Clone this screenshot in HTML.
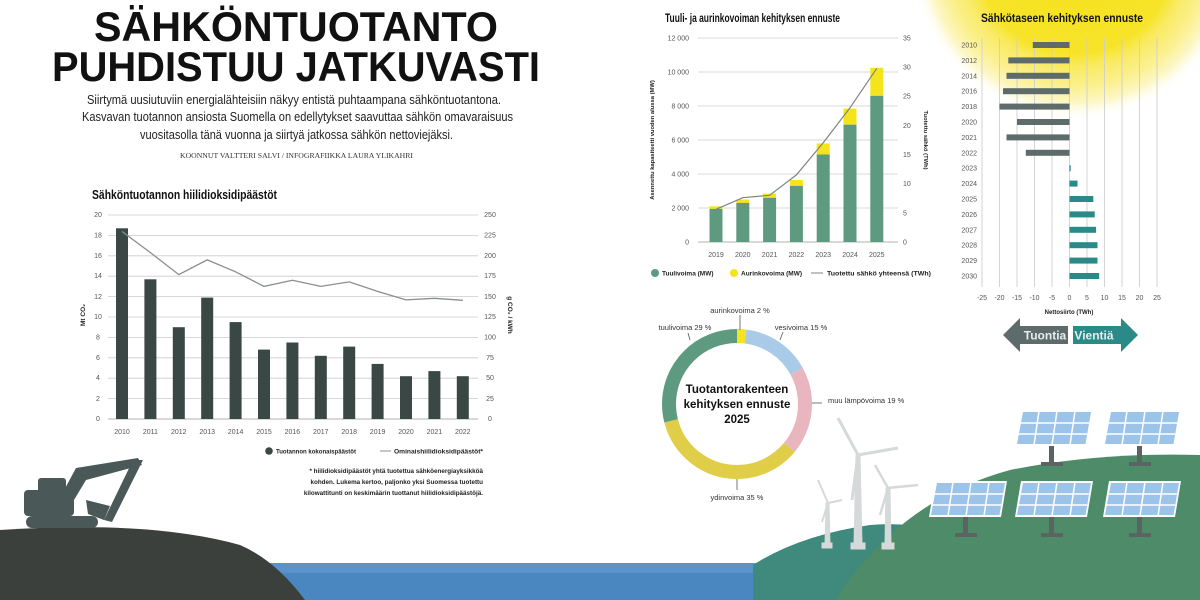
<!DOCTYPE html>
<html><head><meta charset="utf-8"><style>
html,body{margin:0;padding:0;background:#fff}
svg{display:block}
text{font-family:"Liberation Sans",sans-serif}
</style></head><body>
<svg width="1200" height="600" viewBox="0 0 1200 600" xmlns="http://www.w3.org/2000/svg">
<defs>
<radialGradient id="sun" cx="1075" cy="-45" r="165" gradientUnits="userSpaceOnUse">
<stop offset="0" stop-color="#f6e11a"/><stop offset="0.6" stop-color="#f7e42a"/><stop offset="0.68" stop-color="#f9ea62"/><stop offset="0.8" stop-color="#fbf08f"/><stop offset="0.9" stop-color="#fdf7c8"/><stop offset="1" stop-color="#fff" stop-opacity="0"/>
</radialGradient>
</defs>
<rect width="1200" height="600" fill="#fff"/>
<circle cx="1075" cy="-45" r="165" fill="url(#sun)"/>

<!-- Title -->
<g font-weight="bold" fill="#111" text-anchor="start">
<text x="94" y="41" font-size="42" textLength="404" lengthAdjust="spacingAndGlyphs">SÄHKÖNTUOTANTO</text>
<text x="52" y="81" font-size="42" textLength="488" lengthAdjust="spacingAndGlyphs">PUHDISTUU JATKUVASTI</text>
</g>
<g font-size="12.5" fill="#222">
<text x="87" y="104" textLength="414" lengthAdjust="spacingAndGlyphs">Siirtymä uusiutuviin energialähteisiin näkyy entistä puhtaampana sähköntuotantona.</text>
<text x="82" y="121" textLength="431" lengthAdjust="spacingAndGlyphs">Kasvavan tuotannon ansiosta Suomella on edellytykset saavuttaa sähkön omavaraisuus</text>
<text x="140" y="139" textLength="313" lengthAdjust="spacingAndGlyphs">vuositasolla tänä vuonna ja siirtyä jatkossa sähkön nettoviejäksi.</text>
</g>
<text x="180" y="158" font-size="7" fill="#333" style="font-family:'Liberation Serif',serif" textLength="233" lengthAdjust="spacingAndGlyphs">KOONNUT VALTTERI SALVI / INFOGRAFIIKKA LAURA YLIKAHRI</text>

<!-- Left chart -->
<text x="92" y="199" font-size="12.5" font-weight="bold" fill="#111" textLength="185" lengthAdjust="spacingAndGlyphs">Sähköntuotannon hiilidioksidipäästöt</text>
<g stroke="#ccc" stroke-width="0.8">
<line x1="108" x2="478" y1="215" y2="215"/><line x1="108" x2="478" y1="235.4" y2="235.4"/><line x1="108" x2="478" y1="255.8" y2="255.8"/><line x1="108" x2="478" y1="276.2" y2="276.2"/><line x1="108" x2="478" y1="296.6" y2="296.6"/><line x1="108" x2="478" y1="317" y2="317"/><line x1="108" x2="478" y1="337.4" y2="337.4"/><line x1="108" x2="478" y1="357.8" y2="357.8"/><line x1="108" x2="478" y1="378.2" y2="378.2"/><line x1="108" x2="478" y1="398.6" y2="398.6"/><line x1="108" x2="478" y1="419" y2="419" stroke="#999"/>
</g>
<g font-size="7" fill="#555" text-anchor="middle">
<text x="98" y="217">20</text><text x="98" y="237.5">18</text><text x="98" y="258">16</text><text x="98" y="278">14</text><text x="98" y="299">12</text><text x="98" y="319">10</text><text x="98" y="339.5">8</text><text x="98" y="360">6</text><text x="98" y="380">4</text><text x="98" y="401">2</text><text x="98" y="421">0</text>
<text x="490" y="217">250</text><text x="490" y="237.5">225</text><text x="490" y="258">200</text><text x="490" y="278">175</text><text x="490" y="299">150</text><text x="490" y="319">125</text><text x="490" y="339.5">100</text><text x="490" y="360">75</text><text x="490" y="380">50</text><text x="490" y="401">25</text><text x="490" y="421">0</text>
</g>
<text transform="translate(85,315) rotate(-90)" font-size="6.5" font-weight="bold" fill="#222" text-anchor="middle">Mt CO₂</text>
<text transform="translate(508,315) rotate(90)" font-size="6.5" font-weight="bold" fill="#222" text-anchor="middle">g CO₂ / kWh</text>
<g fill="#3a4845">
<rect x="116" y="228.3" width="12" height="190.7"/>
<rect x="144.4" y="279.3" width="12" height="139.7"/>
<rect x="172.8" y="327.2" width="12" height="91.8"/>
<rect x="201.2" y="297.6" width="12" height="121.4"/>
<rect x="229.6" y="322.1" width="12" height="96.9"/>
<rect x="258" y="349.6" width="12" height="69.4"/>
<rect x="286.4" y="342.5" width="12" height="76.5"/>
<rect x="314.8" y="355.8" width="12" height="63.2"/>
<rect x="343.2" y="346.6" width="12" height="72.4"/>
<rect x="371.6" y="363.9" width="12" height="55.1"/>
<rect x="400" y="376.2" width="12" height="42.8"/>
<rect x="428.4" y="371.1" width="12" height="47.9"/>
<rect x="456.8" y="376.2" width="12" height="42.8"/>
</g>
<polyline fill="none" stroke="#8a8f8e" stroke-width="1.3" points="122,231.4 150.4,252.6 178.8,274.6 207.2,259.9 235.6,271.8 264,286.4 292.4,280.3 320.8,286.4 349.2,281.9 377.6,291.4 406,299.9 434.4,298.3 462.8,300.3"/>
<g font-size="7" fill="#555" text-anchor="middle">
<text x="122" y="434">2010</text><text x="150.4" y="434">2011</text><text x="178.8" y="434">2012</text><text x="207.2" y="434">2013</text><text x="235.6" y="434">2014</text><text x="264" y="434">2015</text><text x="292.4" y="434">2016</text><text x="320.8" y="434">2017</text><text x="349.2" y="434">2018</text><text x="377.6" y="434">2019</text><text x="406" y="434">2020</text><text x="434.4" y="434">2021</text><text x="462.8" y="434">2022</text>
</g>
<circle cx="269" cy="451" r="3.8" fill="#3a4845"/>
<text x="276" y="453.5" font-size="6.5" font-weight="bold" fill="#222" textLength="80" lengthAdjust="spacingAndGlyphs">Tuotannon kokonaispäästöt</text>
<line x1="380" x2="391" y1="451" y2="451" stroke="#8a8f8e" stroke-width="1"/>
<text x="394" y="453.5" font-size="6.5" font-weight="bold" fill="#222" textLength="89" lengthAdjust="spacingAndGlyphs">Ominaishiilidioksidipäästöt*</text>
<g font-size="6.3" font-weight="bold" fill="#222" text-anchor="end">
<text x="483" y="473">* hiilidioksidipäästöt yhtä tuotettua sähköenergiayksikköä</text>
<text x="483" y="484">kohden. Lukema kertoo, paljonko yksi Suomessa tuotettu</text>
<text x="483" y="495">kilowattitunti on keskimäärin tuottanut hiilidioksidipäästöjä.</text>
</g>

<!-- Middle chart -->
<text x="665" y="22" font-size="12" font-weight="bold" fill="#111" textLength="175" lengthAdjust="spacingAndGlyphs">Tuuli- ja aurinkovoiman kehityksen ennuste</text>
<g stroke="#ccc" stroke-width="0.8">
<line x1="698" x2="898" y1="38" y2="38"/><line x1="698" x2="898" y1="72" y2="72"/><line x1="698" x2="898" y1="106" y2="106"/><line x1="698" x2="898" y1="140" y2="140"/><line x1="698" x2="898" y1="174" y2="174"/><line x1="698" x2="898" y1="208" y2="208"/><line x1="698" x2="898" y1="242" y2="242" stroke="#999"/>
</g>
<g font-size="7" fill="#555" text-anchor="end">
<text x="689" y="40.5">12 000</text><text x="689" y="74.5">10 000</text><text x="689" y="108.5">8 000</text><text x="689" y="142.5">6 000</text><text x="689" y="176.5">4 000</text><text x="689" y="210.5">2 000</text><text x="689" y="244.5">0</text>
</g>
<g font-size="7" fill="#555" text-anchor="start">
<text x="903" y="40.5">35</text><text x="903" y="69.6">30</text><text x="903" y="98.7">25</text><text x="903" y="127.8">20</text><text x="903" y="157">15</text><text x="903" y="186">10</text><text x="903" y="215.3">5</text><text x="903" y="244.5">0</text>
</g>
<text transform="translate(654,140) rotate(-90)" font-size="5.8" font-weight="bold" fill="#222" text-anchor="middle">Asennettu kapasiteetti vuoden alussa (MW)</text>
<text transform="translate(924,140) rotate(90)" font-size="5.8" font-weight="bold" fill="#222" text-anchor="middle">Tuotettu sähkö (TWh)</text>
<g>
<rect x="709.5" y="206.3" width="13" height="2.6" fill="#f5e31c"/><rect x="709.5" y="208.9" width="13" height="33.1" fill="#5e9a80"/>
<rect x="736.3" y="199.5" width="13" height="3.4" fill="#f5e31c"/><rect x="736.3" y="202.9" width="13" height="39.1" fill="#5e9a80"/>
<rect x="763.1" y="193.6" width="13" height="4.2" fill="#f5e31c"/><rect x="763.1" y="197.8" width="13" height="44.2" fill="#5e9a80"/>
<rect x="789.9" y="180" width="13" height="5.9" fill="#f5e31c"/><rect x="789.9" y="185.9" width="13" height="56.1" fill="#5e9a80"/>
<rect x="816.7" y="143.4" width="13" height="11.1" fill="#f5e31c"/><rect x="816.7" y="154.5" width="13" height="87.5" fill="#5e9a80"/>
<rect x="843.5" y="108.6" width="13" height="16.1" fill="#f5e31c"/><rect x="843.5" y="124.7" width="13" height="117.3" fill="#5e9a80"/>
<rect x="870.3" y="67.8" width="13" height="27.9" fill="#f5e31c"/><rect x="870.3" y="95.8" width="13" height="146.2" fill="#5e9a80"/>
</g>
<polyline fill="none" stroke="#7d8584" stroke-width="1.2" points="716,209.3 742.8,197.7 769.6,195.3 796.4,174.9 823.2,142.8 850,107.8 876.8,68.3"/>
<g font-size="7" fill="#555" text-anchor="middle">
<text x="716" y="257">2019</text><text x="742.8" y="257">2020</text><text x="769.6" y="257">2021</text><text x="796.4" y="257">2022</text><text x="823.2" y="257">2023</text><text x="850" y="257">2024</text><text x="876.8" y="257">2025</text>
</g>
<circle cx="655" cy="273" r="4" fill="#5e9a80"/>
<text x="662" y="275.5" font-size="6.5" font-weight="bold" fill="#222">Tuulivoima (MW)</text>
<circle cx="734" cy="273" r="4" fill="#f5e31c"/>
<text x="741" y="275.5" font-size="6.5" font-weight="bold" fill="#222">Aurinkovoima (MW)</text>
<line x1="811" x2="823" y1="273" y2="273" stroke="#7d8584" stroke-width="1"/>
<text x="827" y="275.5" font-size="6.5" font-weight="bold" fill="#222" textLength="104" lengthAdjust="spacingAndGlyphs">Tuotettu sähkö yhteensä (TWh)</text>

<!-- Right chart -->
<text x="981" y="22" font-size="12" font-weight="bold" fill="#111" textLength="162" lengthAdjust="spacingAndGlyphs">Sähkötaseen kehityksen ennuste</text>
<g stroke="#cfcfcf" stroke-width="0.9">
<line x1="982" x2="982" y1="38" y2="287"/><line x1="999.5" x2="999.5" y1="38" y2="287"/><line x1="1017" x2="1017" y1="38" y2="287"/><line x1="1034.5" x2="1034.5" y1="38" y2="287"/><line x1="1052" x2="1052" y1="38" y2="287"/><line x1="1069.5" x2="1069.5" y1="38" y2="287"/><line x1="1087" x2="1087" y1="38" y2="287"/><line x1="1104.5" x2="1104.5" y1="38" y2="287"/><line x1="1122" x2="1122" y1="38" y2="287"/><line x1="1139.5" x2="1139.5" y1="38" y2="287"/><line x1="1157" x2="1157" y1="38" y2="287"/>
</g>
<g fill="#5d6b6b">
<rect x="1032.8" y="42" width="36.7" height="6"/>
<rect x="1008.3" y="57.4" width="61.2" height="6"/>
<rect x="1006.5" y="72.8" width="63" height="6"/>
<rect x="1003" y="88.2" width="66.5" height="6"/>
<rect x="999.5" y="103.6" width="70" height="6"/>
<rect x="1017" y="119" width="52.5" height="6"/>
<rect x="1006.5" y="134.4" width="63" height="6"/>
<rect x="1025.8" y="149.8" width="43.7" height="6"/>
</g>
<g fill="#2a8a88">
<rect x="1069.5" y="165.2" width="1.2" height="6"/>
<rect x="1069.5" y="180.6" width="8" height="6"/>
<rect x="1069.5" y="196" width="23.8" height="6"/>
<rect x="1069.5" y="211.4" width="25.2" height="6"/>
<rect x="1069.5" y="226.8" width="26.6" height="6"/>
<rect x="1069.5" y="242.2" width="28" height="6"/>
<rect x="1069.5" y="257.6" width="28" height="6"/>
<rect x="1069.5" y="273" width="29.7" height="6"/>
</g>
<g font-size="7" fill="#555" text-anchor="end">
<text x="977" y="47.5">2010</text><text x="977" y="62.9">2012</text><text x="977" y="78.3">2014</text><text x="977" y="93.7">2016</text><text x="977" y="109.1">2018</text><text x="977" y="124.5">2020</text><text x="977" y="139.9">2021</text><text x="977" y="155.3">2022</text><text x="977" y="170.7">2023</text><text x="977" y="186.1">2024</text><text x="977" y="201.5">2025</text><text x="977" y="216.9">2026</text><text x="977" y="232.3">2027</text><text x="977" y="247.7">2028</text><text x="977" y="263.1">2029</text><text x="977" y="278.5">2030</text>
</g>
<g font-size="7" fill="#555" text-anchor="middle">
<text x="982" y="300">-25</text><text x="999.5" y="300">-20</text><text x="1017" y="300">-15</text><text x="1034.5" y="300">-10</text><text x="1052" y="300">-5</text><text x="1069.5" y="300">0</text><text x="1087" y="300">5</text><text x="1104.5" y="300">10</text><text x="1122" y="300">15</text><text x="1139.5" y="300">20</text><text x="1157" y="300">25</text>
</g>
<text x="1069" y="314" font-size="6" font-weight="bold" fill="#222" text-anchor="middle">Nettosiirto (TWh)</text>
<polygon points="1003,335 1020,318 1020,326 1068,326 1068,344 1020,344 1020,352" fill="#5d6b6b"/>
<polygon points="1138,335 1121,318 1121,326 1073,326 1073,344 1121,344 1121,352" fill="#2a8a88"/>
<text x="1045" y="339.5" font-size="12" font-weight="bold" fill="#e8eded" text-anchor="middle">Tuontia</text>
<text x="1094" y="339.5" font-size="12" font-weight="bold" fill="#e8eded" text-anchor="middle">Vientiä</text>

<!-- Landscape -->
<rect x="240" y="563" width="700" height="37" fill="#4a86c0"/>
<rect x="240" y="563" width="700" height="10" fill="#5a93c9"/>
<path d="M753,565 Q800,535 870,525 Q930,520 960,545 L960,600 L753,600 Z" fill="#3f8a7c"/>
<path d="M835,600 Q900,500 1010,470 Q1100,452 1200,455 L1200,600 Z" fill="#4e8b68"/>
<path d="M0,530 Q150,520 240,545 Q275,560 305,600 L0,600 Z" fill="#3c403d"/>
<!-- excavator -->
<g fill="#4a5957">
<rect x="26" y="516" width="72" height="12" rx="6"/>
<rect x="24" y="490" width="50" height="26" rx="4"/>
<rect x="38" y="478" width="28" height="16" rx="3"/>
<polygon points="62,494 76,468 138,458 142,465 86,480 74,500"/>
<polygon points="133,460 143,460 112,522 104,520"/>
<polygon points="86,500 110,506 104,520 88,514"/>
</g>
<!-- wind turbines -->
<g fill="#d5d9d9" stroke="#d5d9d9">
<polygon points="856,455 860,455 862,545 854,545"/>
<line x1="858" y1="455" x2="838" y2="418" stroke-width="3"/>
<line x1="858" y1="455" x2="898" y2="448" stroke-width="3"/>
<line x1="858" y1="455" x2="852" y2="500" stroke-width="3"/>
<rect x="851" y="543" width="14" height="6"/>
<polygon points="826,503 829,503 830,545 825,545"/>
<line x1="828" y1="503" x2="818" y2="480" stroke-width="2"/>
<line x1="828" y1="503" x2="842" y2="500" stroke-width="2"/>
<line x1="828" y1="503" x2="822" y2="522" stroke-width="2"/>
<rect x="822" y="543" width="10" height="5"/>
<polygon points="886,488 890,488 891,545 885,545"/>
<line x1="888" y1="488" x2="875" y2="465" stroke-width="2.5"/>
<line x1="888" y1="488" x2="918" y2="485" stroke-width="2.5"/>
<line x1="888" y1="488" x2="880" y2="515" stroke-width="2.5"/>
<rect x="882" y="543" width="12" height="6"/>
</g>
<!-- solar panels -->
<g>
<g transform="translate(1015,410)"><rect x="34" y="36" width="5" height="18" fill="#5a6563"/><rect x="26" y="52" width="22" height="4" fill="#5a6563"/><polygon points="6,0 78,0 72,36 0,36" fill="#fff"/><polygon points="8,2 76,2 70.5,34 2,34" fill="#9cc3ea"/><g stroke="#fff" stroke-width="1.5"><line x1="4" y1="13" x2="74" y2="13"/><line x1="3" y1="24" x2="72" y2="24"/><line x1="24" y1="1" x2="19" y2="35"/><line x1="42" y1="1" x2="37" y2="35"/><line x1="60" y1="1" x2="55" y2="35"/></g></g>
<g transform="translate(1103,410)"><rect x="34" y="36" width="5" height="18" fill="#5a6563"/><rect x="26" y="52" width="22" height="4" fill="#5a6563"/><polygon points="6,0 78,0 72,36 0,36" fill="#fff"/><polygon points="8,2 76,2 70.5,34 2,34" fill="#9cc3ea"/><g stroke="#fff" stroke-width="1.5"><line x1="4" y1="13" x2="74" y2="13"/><line x1="3" y1="24" x2="72" y2="24"/><line x1="24" y1="1" x2="19" y2="35"/><line x1="42" y1="1" x2="37" y2="35"/><line x1="60" y1="1" x2="55" y2="35"/></g></g>
<g transform="translate(929,481)"><rect x="34" y="36" width="5" height="18" fill="#5a6563"/><rect x="26" y="52" width="22" height="4" fill="#5a6563"/><polygon points="6,0 78,0 72,36 0,36" fill="#fff"/><polygon points="8,2 76,2 70.5,34 2,34" fill="#9cc3ea"/><g stroke="#fff" stroke-width="1.5"><line x1="4" y1="13" x2="74" y2="13"/><line x1="3" y1="24" x2="72" y2="24"/><line x1="24" y1="1" x2="19" y2="35"/><line x1="42" y1="1" x2="37" y2="35"/><line x1="60" y1="1" x2="55" y2="35"/></g></g>
<g transform="translate(1015,481)"><rect x="34" y="36" width="5" height="18" fill="#5a6563"/><rect x="26" y="52" width="22" height="4" fill="#5a6563"/><polygon points="6,0 78,0 72,36 0,36" fill="#fff"/><polygon points="8,2 76,2 70.5,34 2,34" fill="#9cc3ea"/><g stroke="#fff" stroke-width="1.5"><line x1="4" y1="13" x2="74" y2="13"/><line x1="3" y1="24" x2="72" y2="24"/><line x1="24" y1="1" x2="19" y2="35"/><line x1="42" y1="1" x2="37" y2="35"/><line x1="60" y1="1" x2="55" y2="35"/></g></g>
<g transform="translate(1103,481)"><rect x="34" y="36" width="5" height="18" fill="#5a6563"/><rect x="26" y="52" width="22" height="4" fill="#5a6563"/><polygon points="6,0 78,0 72,36 0,36" fill="#fff"/><polygon points="8,2 76,2 70.5,34 2,34" fill="#9cc3ea"/><g stroke="#fff" stroke-width="1.5"><line x1="4" y1="13" x2="74" y2="13"/><line x1="3" y1="24" x2="72" y2="24"/><line x1="24" y1="1" x2="19" y2="35"/><line x1="42" y1="1" x2="37" y2="35"/><line x1="60" y1="1" x2="55" y2="35"/></g></g>
</g>

<!-- Donut -->
<g transform="translate(737,404) rotate(-90)" fill="none" stroke-width="14">
<circle r="68" stroke="#f5e31c" stroke-dasharray="8.55 427.3" stroke-dashoffset="0"/>
<circle r="68" stroke="#a9cbe8" stroke-dasharray="64.1 427.3" stroke-dashoffset="-8.55"/>
<circle r="68" stroke="#e9b5be" stroke-dasharray="81.2 427.3" stroke-dashoffset="-72.6"/>
<circle r="68" stroke="#e0ce48" stroke-dasharray="149.5 427.3" stroke-dashoffset="-153.8"/>
<circle r="68" stroke="#5e9a80" stroke-dasharray="124 427.3" stroke-dashoffset="-303.3"/>
</g>
<g stroke="#555" stroke-width="0.8">
<line x1="740" y1="315" x2="740" y2="330"/>
<line x1="780" y1="340" x2="783" y2="332"/>
<line x1="690" y1="340" x2="688" y2="333"/>
<line x1="812" y1="403" x2="822" y2="403"/>
<line x1="737" y1="479" x2="737" y2="490"/>
</g>
<g font-size="7.5" fill="#333">
<text x="740" y="313" text-anchor="middle">aurinkovoima 2 %</text>
<text x="685" y="330" text-anchor="middle">tuulivoima 29 %</text>
<text x="801" y="330" text-anchor="middle">vesivoima 15 %</text>
<text x="828" y="403">muu lämpövoima 19 %</text>
<text x="737" y="500" text-anchor="middle">ydinvoima 35 %</text>
</g>
<g font-size="11.5" font-weight="bold" fill="#111" text-anchor="middle">
<text x="737" y="393">Tuotantorakenteen</text>
<text x="737" y="408">kehityksen ennuste</text>
<text x="737" y="423">2025</text>
</g>
</svg>
</body></html>
